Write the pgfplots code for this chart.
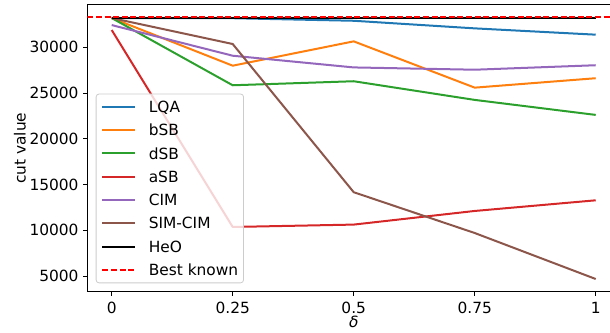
\documentclass[border=0pt]{standalone}
\usepackage{fontspec}
\setmainfont{DejaVu Sans}
\usepackage{pgfplots}
\pgfplotsset{compat=1.18}
\definecolor{c0}{HTML}{1F77B4}
\definecolor{c1}{HTML}{FF7F0E}
\definecolor{c2}{HTML}{2CA02C}
\definecolor{c3}{HTML}{D62728}
\definecolor{c4}{HTML}{9467BD}
\definecolor{c5}{HTML}{8C564B}
\begin{document}
\begin{tikzpicture}[font=\fontsize{15.4}{18}\selectfont]
\begin{axis}[
  scale only axis,
  width=522.5pt, height=287pt,
  xmin=-0.05, xmax=1.0295,
  ymin=3284, ymax=34657,
  axis x line*=box, axis y line*=left,
  axis line style={-, line width=1pt, black},
  xtick pos=left, ytick pos=left,
  tick align=outside, major tick length=4pt,
  tick style={black, line width=1pt},
  scaled x ticks=false, scaled y ticks=false,
  /pgf/number format/assume math mode=true,
  xtick={0,0.25,0.5,0.75,1},
  xticklabels={0,0.25,0.5,0.75,1},
  ytick={5000,10000,15000,20000,25000,30000},
  yticklabels={5000,10000,15000,20000,25000,30000},
  xticklabel style={inner sep=0pt, yshift=-6.5pt},
  yticklabel style={inner sep=0pt, xshift=-4.8pt},
  ylabel={cut value},
  ylabel style={at={(axis description cs:-0.1292,0.5)}, anchor=center},
  xlabel={\itshape δ},
  xlabel style={at={(axis description cs:0.5095,-0.106)}, anchor=center, inner sep=0pt},
  legend image code/.code={\draw[#1] (0pt,0pt) -- (33pt,0pt);},
  legend cell align=left,
  legend style={at={(axis description cs:0.0157,0.0293)}, anchor=south west,
    draw=black!20, line width=0.8pt, fill=white, fill opacity=0.8, text opacity=1, draw opacity=1,
    rounded corners=3pt, inner xsep=5.3pt, inner ysep=7.3pt,
    row sep=12.1pt, column sep=12.4pt,
    nodes={inner sep=0pt, text height=11.2pt, text depth=0pt}},
  every axis plot/.append style={line width=2pt, line join=round},
]
\addplot[c0] coordinates {(0,33200) (0.25,33180) (0.5,32900) (0.75,32070) (1,31380)};
\addlegendentry{LQA}
\addplot[c1] coordinates {(0,33200) (0.25,27990) (0.5,30650) (0.75,25590) (1,26620)};
\addlegendentry{bSB}
\addplot[c2] coordinates {(0,33200) (0.25,25850) (0.5,26290) (0.75,24250) (1,22610)};
\addlegendentry{dSB}
\addplot[c3] coordinates {(0,31890) (0.25,10360) (0.5,10620) (0.75,12110) (1,13275)};
\addlegendentry{aSB}
\addplot[c4] coordinates {(0,32430) (0.25,29080) (0.5,27800) (0.75,27550) (1,28040)};
\addlegendentry{CIM}
\addplot[c5] coordinates {(0,33200) (0.25,30360) (0.5,14160) (0.75,9700) (1,4672)};
\addlegendentry{SIM-CIM}
\addplot[black] coordinates {(0,33200) (0.25,33200) (0.5,33200) (0.75,33200) (1,33200)};
\addlegendentry{HeO}
\addplot[red, dash pattern=on 6pt off 2.6pt] coordinates {(-0.05,33337) (1.0295,33337)};
\addlegendentry{Best known}
\end{axis}
\pgfresetboundingbox
\path[use as bounding box] ([xshift=-87.5pt,yshift=-40.3pt]current axis.south west) rectangle ([yshift=4.7pt]current axis.north east);
\end{tikzpicture}
\end{document}
